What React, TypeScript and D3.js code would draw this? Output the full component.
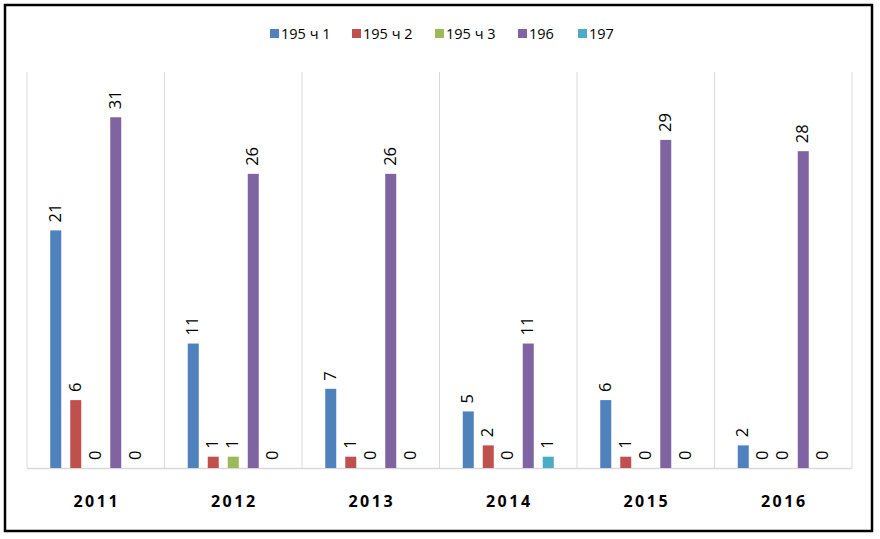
import React from "react";
import * as d3 from "d3";

const years = ["2011", "2012", "2013", "2014", "2015", "2016"];
const seriesNames = ["195 ч 1", "195 ч 2", "195 ч 3", "196", "197"];
const s1951 = [21, 11, 7, 5, 6, 2];
const s1952 = [6, 1, 1, 2, 1, 0];
const s1953 = [0, 1, 0, 0, 0, 0];
const s196 = [31, 26, 26, 11, 29, 28];
const s197 = [0, 0, 0, 1, 0, 0];
const colors = ["#4F81BD", "#C0504D", "#9BBB59", "#8064A2", "#4BACC6"];

const allSeries = [s1951, s1952, s1953, s196, s197];

const W = 880;
const H = 539;
const left = 27;
const right = 852;
const top = 72;
const base = 468;

export default function App() {
  const x0 = d3.scaleBand<string>().domain(years).range([left, right]).padding(0);
  const x1 = d3
    .scaleBand<string>()
    .domain(seriesNames)
    .range([0, x0.bandwidth()])
    .paddingInner(0.45)
    .paddingOuter(1.1625);
  const y = d3.scaleLinear().domain([0, 35]).range([base, top]);

  const legendX = [270, 352, 435, 518, 578];
  const font = "'Open Sans', 'Liberation Sans', Arial, sans-serif";

  return (
    <svg
      width={W}
      height={H}
      style={{ position: "absolute", left: 0, top: 0, background: "#fff" }}
      fontFamily={font}
    >
      <rect x={5} y={5} width={867} height={526} fill="#fff" stroke="#000" strokeWidth={2.5} />
      {[...years.map((yr) => x0(yr)!), right].map((xv, i) => (
        <line key={i} x1={xv} x2={xv} y1={top} y2={base} stroke="#d9d9d9" strokeWidth={1} />
      ))}
      <line x1={left} x2={right} y1={base + 0.5} y2={base + 0.5} stroke="#d9d9d9" strokeWidth={1.5} />
      {years.map((yr, gi) => (
        <g key={yr}>
          {allSeries.map((arr, si) => {
            const v = arr[gi];
            const bx = x0(yr)! + x1(seriesNames[si])!;
            const bw = x1.bandwidth();
            const yt = y(v);
            const cx = bx + bw / 2;
            const ty = yt - 8;
            return (
              <g key={si}>
                {v > 0 && <rect x={bx} y={yt} width={bw} height={base - yt} fill={colors[si]} />}
                <text
                  transform={`translate(${cx + 0.5},${ty}) rotate(-90)`}
                  textAnchor="start"
                  dominantBaseline="middle"
                  fontSize={16.5}
                  fill="#000"
                >
                  {v}
                </text>
              </g>
            );
          })}
          <text
            x={x0(yr)! + x0.bandwidth() / 2 + 1}
            y={507}
            textAnchor="middle"
            fontSize={16}
            fontWeight="bold"
            letterSpacing={2.5}
            fill="#000"
          >
            {yr}
          </text>
        </g>
      ))}
      {seriesNames.map((n, i) => (
        <g key={n}>
          <rect x={legendX[i]} y={29} width={9} height={9} fill={colors[i]} />
          <text x={legendX[i] + 11} y={38.5} fontSize={14.5} fill="#000">
            {n}
          </text>
        </g>
      ))}
    </svg>
  );
}
